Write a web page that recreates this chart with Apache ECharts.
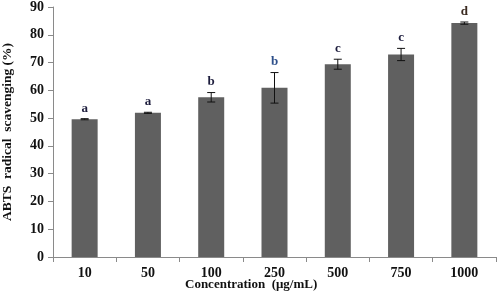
<!DOCTYPE html>
<html>
<head>
<meta charset="utf-8">
<title>ABTS</title>
<script src="https://cdn.jsdelivr.net/npm/echarts@6/dist/echarts.min.js"></script>
<style>
  html, body { margin: 0; padding: 0; background: #fff; }
  #main { width: 500px; height: 298px; }
</style>
</head>
<body>
<div id="main"></div>
<script type="text/javascript">
    // data
    var categories = ['10', '50', '100', '250', '500', '750', '1000'];
    var scavenging = [49.6, 51.9, 57.5, 60.9, 69.4, 72.9, 84.2];
    var errors = [0.2, 0.2, 1.7, 5.5, 1.8, 2.2, 0.4];
    var letters = ['a', 'a', 'b', 'b', 'c', 'c', 'd'];
    var letterColors = ['#1c1c3c', '#1c1c3c', '#1c1c3c', '#2d4f8a', '#1c1c3c', '#1c1c3c', '#3a2a20'];

    var serif = '"Liberation Serif", "DejaVu Serif", serif';

    var errData = [];
    for (var i = 0; i < categories.length; i++) {
        errData.push([i, scavenging[i] - errors[i], scavenging[i] + errors[i]]);
    }

    function renderErr(params, api) {
        var i = api.value(0);
        var lo = api.coord([i, api.value(1)]);
        var hi = api.coord([i, api.value(2)]);
        var cap = 4;
        return {
            type: 'group',
            children: [
                {type: 'line', shape: {x1: hi[0], y1: hi[1], x2: lo[0], y2: lo[1]}, style: {stroke: '#111', lineWidth: 1}},
                {type: 'line', shape: {x1: hi[0] - cap, y1: hi[1], x2: hi[0] + cap, y2: hi[1]}, style: {stroke: '#111', lineWidth: 1}},
                {type: 'line', shape: {x1: lo[0] - cap, y1: lo[1], x2: lo[0] + cap, y2: lo[1]}, style: {stroke: '#111', lineWidth: 1}},
                {type: 'text', x: hi[0], y: hi[1] - 4, style: {
                    text: letters[i], fill: letterColors[i], font: 'bold 13px ' + serif,
                    align: 'center', verticalAlign: 'bottom'
                }}
            ]
        };
    }

    var myChart = echarts.init(document.getElementById('main'));
    myChart.setOption({
        animation: false,
        title: {
            text: 'Concentration  (μg/mL)',
            left: 180, top: 273,
            textStyle: {fontFamily: serif, fontWeight: 'bold', fontSize: 13, color: '#111'}
        },
        grid: {left: 53, right: 4, top: 7, bottom: 41, outerBoundsMode: 'none', containLabel: false},
        xAxis: {
            type: 'category',
            data: categories,
            axisLine: {lineStyle: {color: '#8a8a8a'}},
            axisTick: {show: true, alignWithLabel: false, length: 5, lineStyle: {color: '#8a8a8a'}},
            axisLabel: {fontFamily: serif, fontWeight: 'bold', fontSize: 14, color: '#111', margin: 9}
        },
        yAxis: {
            type: 'value',
            min: 0, max: 90, interval: 10,
            name: 'ABTS  radical  scavenging (%)',
            nameLocation: 'middle',
            nameGap: 38,
            nameTextStyle: {fontFamily: serif, fontWeight: 'bold', fontSize: 13.5, color: '#111'},
            axisLine: {show: true, lineStyle: {color: '#8a8a8a'}},
            axisTick: {show: true, length: 5, lineStyle: {color: '#8a8a8a'}},
            splitLine: {show: false},
            axisLabel: {fontFamily: serif, fontWeight: 'bold', fontSize: 14, color: '#111', margin: 9}
        },
        series: [
            {
                type: 'bar',
                data: scavenging,
                barWidth: 26,
                itemStyle: {color: '#606060'}
            },
            {
                type: 'custom',
                renderItem: renderErr,
                data: errData,
                encode: {x: 0, y: [1, 2]},
                z: 5
            }
        ]
    });
</script>
</body>
</html>
